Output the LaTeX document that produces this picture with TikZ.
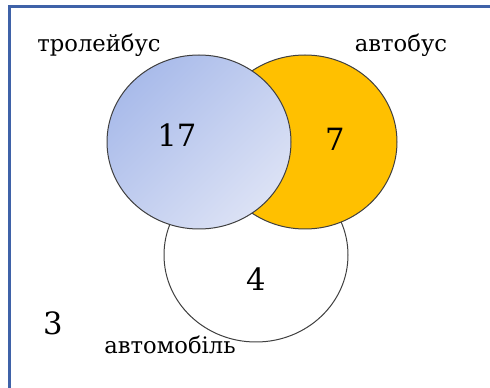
\documentclass[tikz,border=0pt]{standalone}
\usepackage{fontspec}
\setmainfont{DejaVu Serif}
\usepackage{tikz}
\usetikzlibrary{shapes.geometric}

\definecolor{framec}{HTML}{3F62A8}
\definecolor{edgec}{HTML}{404040}
\definecolor{bluedark}{HTML}{A9BBEA}
\definecolor{bluelight}{HTML}{DCE2F5}
\definecolor{busc}{HTML}{FFC000}

\tikzset{
set/.style={ellipse, draw=edgec, line width=0.75pt, inner sep=0pt,
  minimum width=138pt, minimum height=130.5pt},
lbl/.style={anchor=base, font=\fontsize{17}{21}\selectfont},
num/.style={anchor=base, font=\fontsize{23}{27}\selectfont}
}

\begin{document}
\begin{tikzpicture}[x=0.75pt, y=-0.75pt]
\useasboundingbox (0,0) rectangle (490,388);
\draw[framec, line width=2.4pt] (9.5,388) -- (9.5,6.5) -- (490,6.5);
\node[set, fill=white] (car) at (256,255) {};
\node[set, fill=busc] (bus) at (305,142) {};
\node[set, top color=bluedark, bottom color=bluelight, shading angle=45] (trol) at (199,142) {};
\node[lbl] (trolname) at (99,52) {тролейбус};
\node[lbl] (busname) at (401,52) {автобус};
\node[lbl] (carname) at (170,354) {автомобіль};
\node[num] (ntrol) at (177,147) {17};
\node[num] (nbus) at (335,151) {7};
\node[num] (ncar) at (256,291) {4};
\node[num] (nout) at (53,335) {3};
\end{tikzpicture}
\end{document}
